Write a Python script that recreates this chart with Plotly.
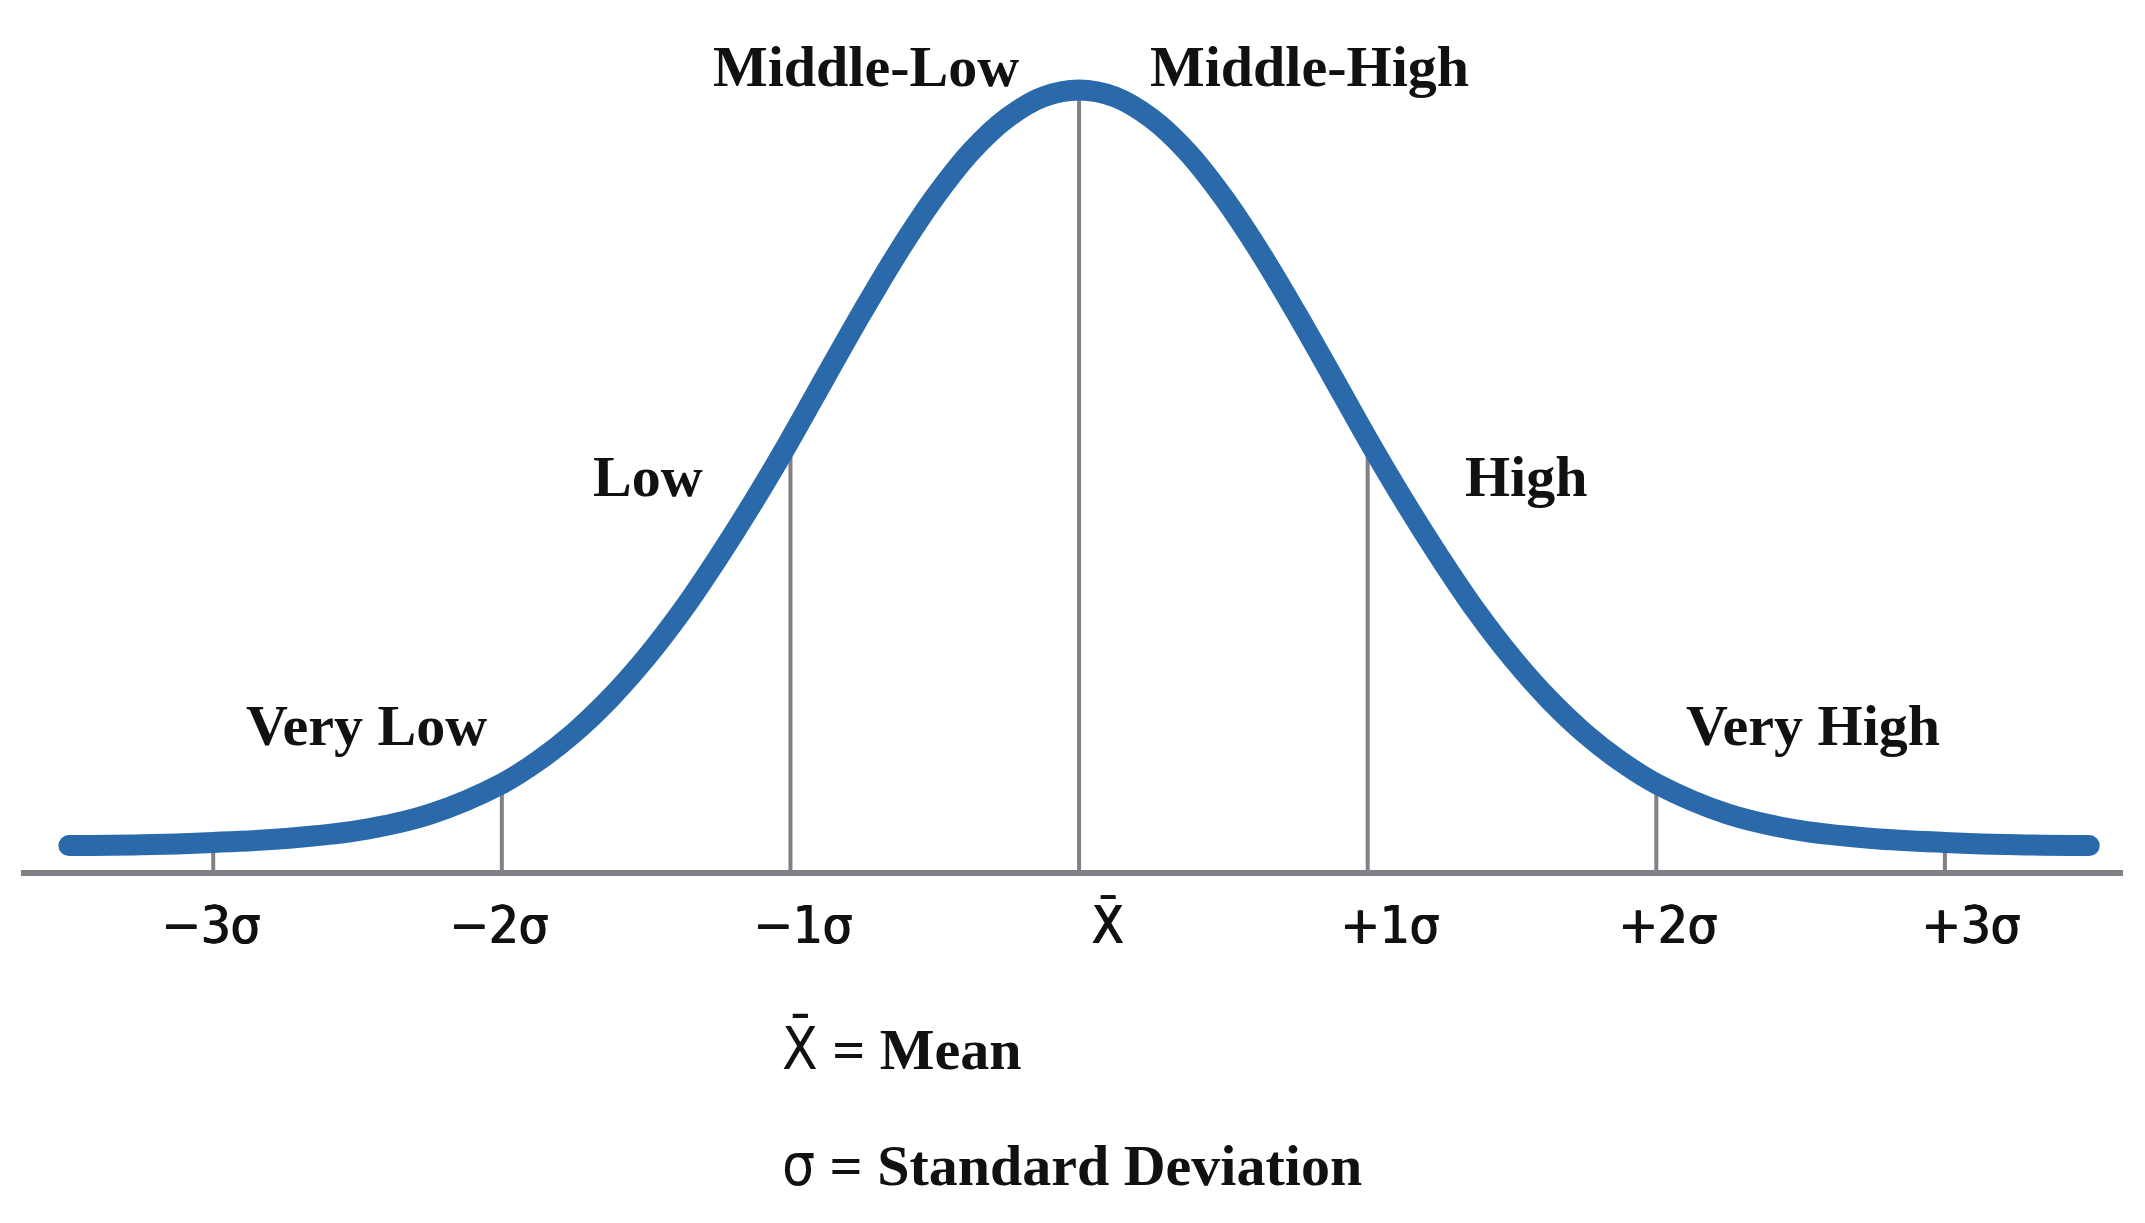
import plotly.graph_objects as go

# ---- data (x in standard deviations, y in % of peak height)
z_vals = [-3.5, -3.25, -3.0, -2.75, -2.5, -2.25, -2.0, -1.875, -1.75, -1.625, -1.5, -1.375, -1.25, -1.125,
          -1.0, -0.875, -0.75, -0.625, -0.5, -0.375, -0.25, -0.125,
          0.0, 0.125, 0.25, 0.375, 0.5, 0.625, 0.75, 0.875,
          1.0, 1.125, 1.25, 1.375, 1.5, 1.625, 1.75, 1.875, 2.0, 2.25, 2.5, 2.75, 3.0, 3.25, 3.5]
curve_y = [3.5, 3.6, 3.9, 4.4, 5.4, 7.5, 11.4, 14.3, 17.9, 22.3, 27.5, 33.5, 40.3, 47.6,
           55.4, 63.6, 71.7, 79.4, 86.3, 92.1, 96.4, 99.1,
           100.0, 99.1, 96.4, 92.1, 86.3, 79.4, 71.7, 63.6,
           55.4, 47.6, 40.3, 33.5, 27.5, 22.3, 17.9, 14.3, 11.4, 7.5, 5.4, 4.4, 3.9, 3.6, 3.5]

tick_vals = [-3, -2, -1, 0, 1, 2, 3]
tick_text = ["\u22123\u03c3", "\u22122\u03c3", "\u22121\u03c3", "X\u0304", "+1\u03c3", "+2\u03c3", "+3\u03c3"]
guide_top = [3.9, 11.4, 55.4, 100.0, 55.4, 11.4, 3.9]

category_labels = ["Very Low", "Low", "Middle-Low", "Middle-High", "High", "Very High"]

legend_lines = [("X\u0304", "= Mean"), ("\u03c3", "= Standard Deviation")]

# ---- style / layout (positions of text, not data)
cat_pos = [(-2.47, 18.8), (-1.493, 50.6), (-0.738, 103.0), (0.80, 103.0), (1.549, 50.6), (2.543, 18.8)]
tick_shift = [-3, -3, 12, 28, 22, 11, 26]
axis_extent = [-3.666, 3.617]
legend_x = -1.036
legend_y = [-22.3, -37.3]

BLUE = "#2a6aaa"
GRAY = "#808086"
SERIF = "Liberation Serif, Times New Roman, serif"
SANS = "DejaVu Sans Condensed, Liberation Sans Narrow, Arial Narrow, sans-serif"
THICK = "1.5px 0px 0px #111111, 0.75px 0px 0px #111111"

fig = go.Figure()

# baseline axis
fig.add_trace(go.Scatter(x=axis_extent, y=[0, 0], mode="lines",
                         line=dict(color=GRAY, width=6), hoverinfo="skip", showlegend=False))

# guide lines at each tick up to the curve
for tv, top in zip(tick_vals, guide_top):
    fig.add_trace(go.Scatter(x=[tv, tv], y=[0, top], mode="lines",
                             line=dict(color=GRAY, width=4), hoverinfo="skip", showlegend=False))

# the bell curve
fig.add_trace(go.Scatter(x=z_vals, y=curve_y, mode="lines",
                         line=dict(color=BLUE, width=21, shape="spline", smoothing=1.0),
                         hoverinfo="skip", showlegend=False))
# round caps
fig.add_trace(go.Scatter(x=[z_vals[0], z_vals[-1]], y=[curve_y[0], curve_y[-1]], mode="markers",
                         marker=dict(color=BLUE, size=21, line=dict(width=0)),
                         hoverinfo="skip", showlegend=False))

annotations = []
for lab, (ax, ay) in zip(category_labels, cat_pos):
    annotations.append(dict(x=ax, y=ay, xref="x", yref="y", text="<b>%s</b>" % lab, showarrow=False,
                            font=dict(family=SERIF, size=58, color="#111111"),
                            xanchor="center", yanchor="middle"))

for tv, tt, sh in zip(tick_vals, tick_text, tick_shift):
    annotations.append(dict(x=tv, y=-6.6, xref="x", yref="y", text=tt, showarrow=False,
                            xshift=sh, font=dict(family=SANS, size=52, color="#111111", shadow=THICK),
                            xanchor="center", yanchor="middle"))

for (sym, rest), ly in zip(legend_lines, legend_y):
    txt = "<span style='font-family:%s'>%s</span> <b>%s</b>" % (SANS, sym, rest)
    annotations.append(dict(x=legend_x, y=ly, xref="x", yref="y", text=txt, showarrow=False,
                            font=dict(family=SERIF, size=58, color="#111111"),
                            xanchor="left", yanchor="middle"))

# page body has an 8px margin: figure is shrunk by 16px and plot area shifted accordingly
fig.update_layout(
    width=2129, height=1207,
    margin=dict(l=13, r=14, t=0, b=0),
    paper_bgcolor="white", plot_bgcolor="white",
    xaxis=dict(range=axis_extent, visible=False, fixedrange=True),
    yaxis=dict(range=[-43.68, 110.47], visible=False, fixedrange=True),
    annotations=annotations,
    showlegend=False,
)

fig.write_html("out.html")
